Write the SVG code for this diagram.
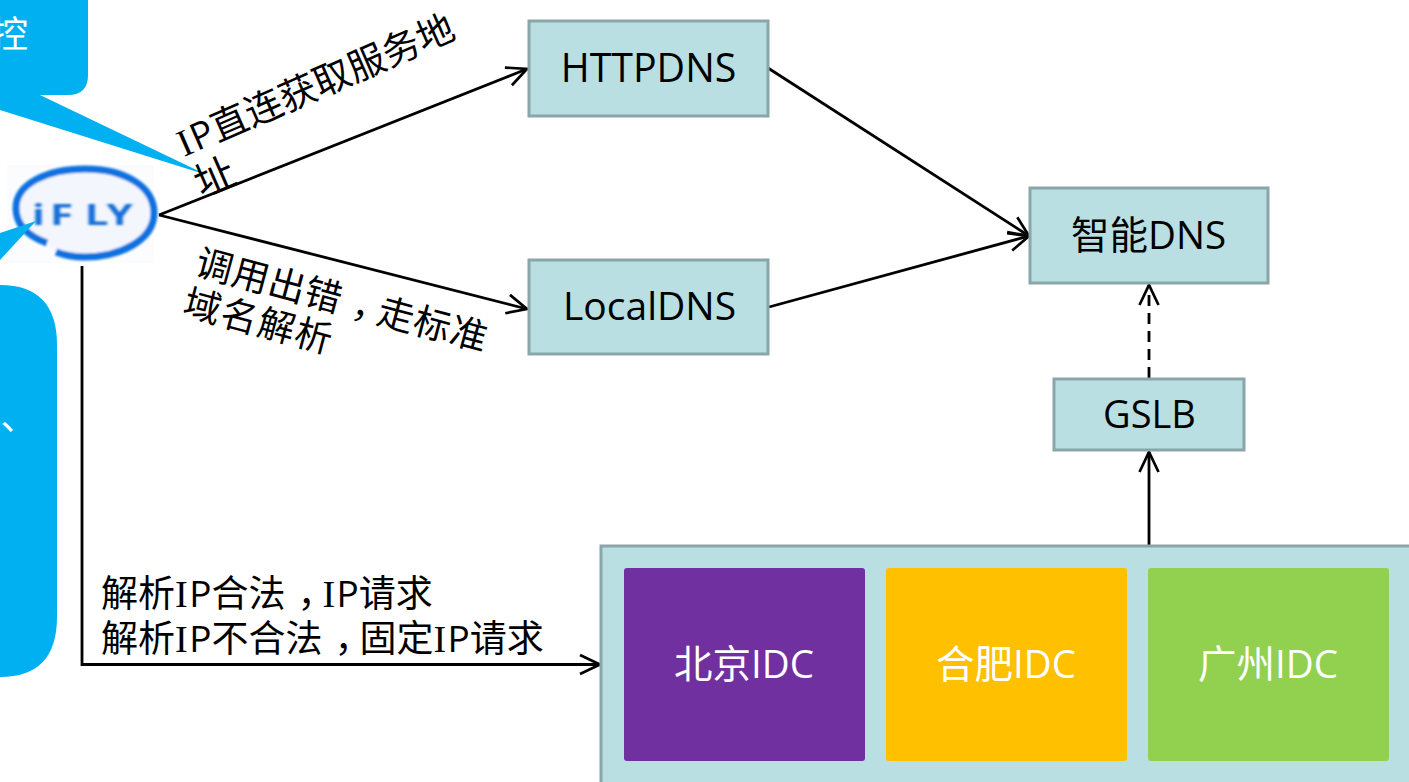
<svg xmlns="http://www.w3.org/2000/svg" width="1409" height="782" viewBox="0 0 1409 782">
<defs>
<marker id="arrow" markerUnits="userSpaceOnUse" markerWidth="26" markerHeight="24" refX="22" refY="12" orient="auto"><path d="M2 2.5L22 12L2 21.5" fill="none" stroke="#000" stroke-width="2.7"/></marker>
<filter id="soft" x="-10%" y="-10%" width="120%" height="120%"><feGaussianBlur stdDeviation="1"/></filter>
</defs>
<style>
text{font-family:"Open Sans","Noto Sans CJK SC",sans-serif;}
.box{fill:#b9dfe3;stroke:#8aa6a9;stroke-width:3;}
.t{font-size:38.5px;fill:#000;text-anchor:middle;}
.w{font-size:38.5px;fill:#fff;text-anchor:middle;}
.l{font-size:37px;fill:#000;}
.i{font-family:"Liberation Serif",serif;font-size:38px;letter-spacing:1.5px;}
.c{fill:#00b0f0;}
.line{fill:none;stroke:#000;stroke-width:2.8;}
</style>
<g id="logo">
<rect x="7" y="165" width="147" height="98" fill="#fbfcfe"/>
<path d="M47 243C25 235 16 222 16 208C16 184 47 169 85 169C124 169 154 186 154 213C154 240 120 257 85 257C74 257 64 255 56 252" fill="#f3f6fc" stroke="#0f72e0" stroke-width="7" filter="url(#soft)"/>
<text transform="scale(1.45 1)" x="22 34.500 58.500 73.500" y="225" font-size="29" font-weight="700" fill="#1570d8" filter="url(#soft)">iFLY</text>
</g>
<g id="callout-top"><path class="c" d="M0 0H88V75Q88 95 68 95H40L207 175L0 110Z"/><text x="-9" y="48" font-size="37" fill="#fff">控</text></g>
<g id="callout-left"><path class="c" d="M0 285Q57 285 57 345V617Q57 677 0 677Z"/><path class="c" d="M0 233L36 221L0 260Z"/><text x="-20" y="430" font-size="36" fill="#fff">0、</text></g>
<g id="connectors">
<path class="line" marker-end="url(#arrow)" d="M159 215L527 69"/>
<path class="line" marker-end="url(#arrow)" d="M159 215L527 309"/>
<path class="line" marker-end="url(#arrow)" d="M768 68L1029 236"/>
<path class="line" marker-end="url(#arrow)" d="M769 307L1029 236"/>
<path class="line" marker-end="url(#arrow)" d="M1149 378V285" stroke-dasharray="11 7"/>
<path class="line" marker-end="url(#arrow)" d="M1149 545V452"/>
<path class="line" marker-end="url(#arrow)" d="M82 266V664.500H600"/>
</g>
<g id="httpdns"><rect class="box" x="529" y="21" width="239" height="95"/><text class="t" x="648.500" y="82" style="font-size:39.3px">HTTPDNS</text></g>
<g id="localdns"><rect class="box" x="529" y="260" width="239" height="94"/><text class="t" x="649.500" y="320" style="font-size:39px">LocalDNS</text></g>
<g id="smartdns"><rect class="box" x="1030" y="188" width="238" height="95"/><text class="t" x="1148.500" y="249">智能DNS</text></g>
<g id="gslb"><rect class="box" x="1054" y="379" width="190" height="71"/><text class="t" x="1149.500" y="428" style="font-size:38px">GSLB</text></g>
<g id="idc-group"><rect class="box" x="601" y="546" width="820" height="250"/></g>
<g id="idc-bj"><rect x="624" y="568" width="241" height="193" rx="3" fill="#7030a0"/><text class="w" x="744" y="678">北京IDC</text></g>
<g id="idc-hf"><rect x="886" y="568" width="241" height="193" rx="3" fill="#ffc000"/><text class="w" x="1006" y="678">合肥IDC</text></g>
<g id="idc-gz"><rect x="1148" y="568" width="241" height="193" rx="3" fill="#92d050"/><text class="w" x="1268" y="678">广州IDC</text></g>
<g id="labels">
<g transform="translate(184 157) rotate(-23.600)"><text class="l" x="0" y="0" style="font-size:37.400px"><tspan class="i">I</tspan>P直连获取服务地</text><text class="l" x="0" y="45" style="font-size:40px">址</text></g>
<g transform="translate(197 275) rotate(15)"><text class="l" x="-4" y="0" style="letter-spacing:.6px">调用出错<tspan dx="12">，</tspan><tspan dx="-12">走标准</tspan></text><text class="l" x="-5" y="42" style="letter-spacing:1.3px">域名解析</text></g>
<text class="l" x="101" y="607">解析<tspan class="i">I</tspan>P合法<tspan dx="12">，</tspan><tspan class="i" dx="-12">I</tspan>P请求</text>
<text class="l" x="101" y="652">解析<tspan class="i">I</tspan>P不合法<tspan dx="12">，</tspan><tspan dx="-12">固定</tspan><tspan class="i">I</tspan>P请求</text>
</g>
</svg>
